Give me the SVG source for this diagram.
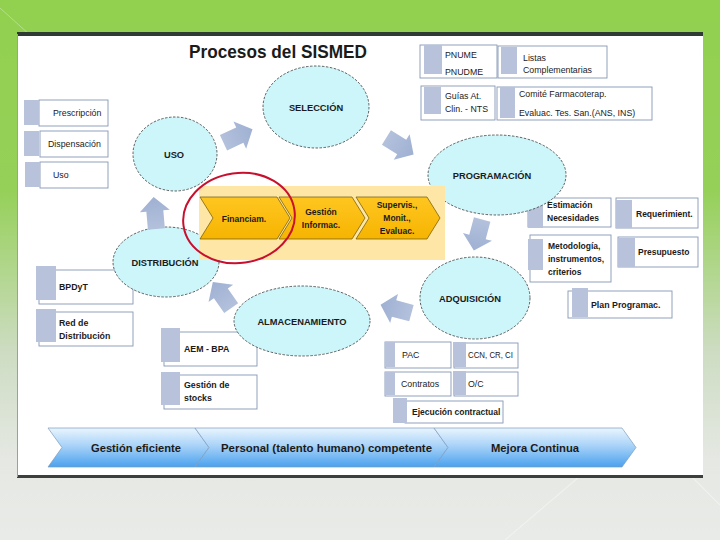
<svg xmlns="http://www.w3.org/2000/svg" width="720" height="540" viewBox="0 0 720 540">
<defs>
<linearGradient id="bg" x1="0" y1="0" x2="0" y2="1">
<stop offset="0" stop-color="#92d050"/>
<stop offset="0.35" stop-color="#95d058"/>
<stop offset="0.65" stop-color="#cddcc2"/>
<stop offset="0.85" stop-color="#e5e8e3"/>
<stop offset="1" stop-color="#e9ebe8"/>
</linearGradient>
<linearGradient id="blue" x1="0" y1="0" x2="0" y2="1">
<stop offset="0" stop-color="#eaf5fe"/>
<stop offset="0.45" stop-color="#a9d3f8"/>
<stop offset="1" stop-color="#4aa1ee"/>
</linearGradient>
<linearGradient id="orange" x1="0" y1="0" x2="0" y2="1">
<stop offset="0" stop-color="#ffc621"/>
<stop offset="1" stop-color="#f6b400"/>
</linearGradient>
<linearGradient id="arr" x1="0" y1="0" x2="1" y2="0">
<stop offset="0" stop-color="#b3c1dc"/>
<stop offset="1" stop-color="#9fb0d2"/>
</linearGradient>
<path id="blk" d="M-16,-8.5 L2,-8.5 L2,-15 L16,0 L2,15 L2,8.5 L-16,8.5 Z"/>
</defs>
<style>
.t{font-family:"Liberation Sans",Arial,sans-serif;fill:#1b1b1b}
.b{font-weight:bold}
.el{fill:#cdf6fb;stroke:#3a3a3a;stroke-width:0.8;stroke-dasharray:2.5,1.5}
.bx{fill:#ffffff;stroke:#8597b6;stroke-width:0.9}
.sq{fill:#b8c3db}
.ch{fill:url(#orange);stroke:#6b5300;stroke-width:0.7}
.bc{fill:url(#blue);stroke:#7d9cbf;stroke-width:0.7}
.ar{fill:url(#arr)}
.lab{font-size:9.3px;font-weight:bold;text-anchor:middle}
.s{font-size:8.8px}
.m{text-anchor:middle}
</style>
<rect width="720" height="540" fill="url(#bg)"/>
<path d="M0,8 L40,44" stroke="#c2e6a0" stroke-width="1" opacity="0.7"/>
<path d="M505,540 L640,425 M640,425 L720,505" stroke="#f3f4f2" stroke-width="1.2" opacity="0.8" fill="none"/>
<rect x="17" y="34" width="686" height="442" fill="#ffffff"/>
<rect x="17" y="32" width="686" height="4" fill="#303a34"/>
<rect x="17" y="475" width="686" height="3" fill="#3b403d"/>
<line x1="17.5" y1="34" x2="17.5" y2="477" stroke="#9aa09a" stroke-width="1"/>
<text class="t b" x="189" y="58" font-size="19" textLength="178" lengthAdjust="spacingAndGlyphs">Procesos del SISMED</text>

<g id="box-pnume"><rect class="bx" x="420" y="45" width="77" height="33"/><rect class="sq" x="424" y="45" width="18" height="29"/><text class="t s" x="445" y="58">PNUME</text><text class="t s" x="445" y="75">PNUDME</text></g>
<g id="box-listas"><rect class="bx" x="498" y="46" width="109" height="32"/><rect class="sq" x="501" y="47" width="16" height="27"/><text class="t s" x="523" y="61">Listas</text><text class="t s" x="523" y="73">Complementarias</text></g>
<g id="box-guias"><rect class="bx" x="421" y="86" width="74" height="34"/><rect class="sq" x="424" y="87" width="17" height="27"/><text class="t s" x="445" y="99">Guías At.</text><text class="t s" x="445" y="112">Clin. - NTS</text></g>
<g id="box-comite"><rect class="bx" x="497" y="87" width="155" height="33"/><rect class="sq" x="500" y="87" width="15" height="31"/><text class="t s" x="519" y="97">Comité Farmacoterap.</text><text class="t s" x="519" y="116">Evaluac. Tes. San.(ANS, INS)</text></g>
<g id="box-estimacion"><rect class="bx" x="528" y="198" width="83" height="29"/><rect class="sq" x="528" y="201" width="15" height="27"/><text class="t b" font-size="8.5" x="547" y="208">Estimación</text><text class="t b" font-size="8.5" x="547" y="221">Necesidades</text></g>
<g id="box-requerimiento"><rect class="bx" x="616" y="198" width="82" height="30"/><rect class="sq" x="616" y="200" width="16" height="28"/><text class="t b" font-size="8.5" x="636" y="217">Requerimient.</text></g>
<g id="box-metodologia"><rect class="bx" x="530" y="235" width="81" height="47"/><rect class="sq" x="528" y="239" width="15" height="31"/><text class="t b" font-size="8.5" x="548" y="249">Metodología,</text><text class="t b" font-size="8.5" x="548" y="262">instrumentos,</text><text class="t b" font-size="8.5" x="548" y="275">criterios</text></g>
<g id="box-presupuesto"><rect class="bx" x="618" y="237" width="80" height="30"/><rect class="sq" x="618" y="238" width="17" height="29"/><text class="t b" font-size="8.5" x="638" y="255">Presupuesto</text></g>
<g id="box-plan"><rect class="bx" x="568" y="291" width="104" height="27"/><rect class="sq" x="572" y="288" width="16" height="29"/><text class="t b" font-size="8.8" x="591" y="308">Plan Programac.</text></g>
<g id="box-prescripcion"><rect class="bx" x="39" y="100" width="69" height="26"/><rect class="sq" x="24" y="100" width="15" height="25"/><text class="t s" x="53" y="116">Prescripción</text></g>
<g id="box-dispensacion"><rect class="bx" x="40" y="131" width="68" height="26"/><rect class="sq" x="24" y="131" width="15" height="25"/><text class="t s" x="48" y="147">Dispensación</text></g>
<g id="box-uso"><rect class="bx" x="40" y="162" width="68" height="26"/><rect class="sq" x="25" y="162" width="15" height="25"/><text class="t s" x="53" y="178">Uso</text></g>
<g id="box-bpdyt"><rect class="bx" x="39" y="270" width="94" height="34"/><rect class="sq" x="36" y="266" width="20" height="34"/><text class="t b" font-size="8.8" x="59" y="290">BPDyT</text></g>
<g id="box-red"><rect class="bx" x="39" y="312" width="94" height="34"/><rect class="sq" x="36" y="309" width="20" height="33"/><text class="t b" font-size="8.8" x="59" y="326">Red de</text><text class="t b" font-size="8.8" x="59" y="339">Distribución</text></g>
<g id="box-aem"><rect class="bx" x="164" y="332" width="93" height="34"/><rect class="sq" x="161" y="328" width="19" height="34"/><text class="t b" font-size="8.8" x="184" y="352">AEM - BPA</text></g>
<g id="box-stocks"><rect class="bx" x="164" y="375" width="93" height="34"/><rect class="sq" x="161" y="372" width="19" height="33"/><text class="t b" font-size="8.8" x="184" y="388">Gestión de</text><text class="t b" font-size="8.8" x="184" y="401">stocks</text></g>
<g id="box-pac"><rect class="bx" x="385" y="342" width="66" height="26"/><rect class="sq" x="385" y="342" width="10" height="25"/><text class="t s" x="402" y="358">PAC</text></g>
<g id="box-ccn"><rect class="bx" x="454" y="343" width="64" height="25"/><rect class="sq" x="453" y="342" width="13" height="25"/><text class="t" font-size="8.4" x="468" y="358" textLength="45" lengthAdjust="spacingAndGlyphs">CCN, CR, CI</text></g>
<g id="box-contratos"><rect class="bx" x="385" y="372" width="66" height="24"/><rect class="sq" x="385" y="372" width="10" height="23"/><text class="t s" x="401" y="387">Contratos</text></g>
<g id="box-oc"><rect class="bx" x="454" y="372" width="64" height="24"/><rect class="sq" x="453" y="371" width="13" height="24"/><text class="t s" x="468" y="387">O/C</text></g>
<g id="box-ejecucion"><rect class="bx" x="405" y="401" width="98" height="22"/><rect class="sq" x="393" y="398" width="14" height="25"/><text class="t b" font-size="8.5" x="412" y="415">Ejecución contractual</text></g>

<g id="node-seleccion"><ellipse class="el" cx="316" cy="107" rx="53" ry="41"/><text class="t lab" x="316" y="110.5">SELECCIÓN</text></g>
<g id="node-uso"><ellipse class="el" cx="175" cy="154" rx="42" ry="37"/><text class="t lab" x="174" y="157.5">USO</text></g>
<g id="node-programacion"><ellipse class="el" cx="497" cy="175" rx="69" ry="40"/><text class="t lab" x="492" y="178.5">PROGRAMACIÓN</text></g>
<g id="node-adquisicion"><ellipse class="el" cx="475" cy="298" rx="55" ry="41"/><text class="t lab" x="470" y="301.5">ADQUISICIÓN</text></g>
<g id="node-distribucion"><ellipse class="el" cx="166" cy="262" rx="53" ry="35"/><text class="t lab" x="165" y="265.5">DISTRIBUCIÓN</text></g>
<g id="node-almacenamiento"><ellipse class="el" cx="302" cy="321" rx="68" ry="35"/><text class="t lab" x="302" y="324.5">ALMACENAMIENTO</text></g>

<g id="node-gestion-band">
<rect x="199" y="186" width="246" height="74" fill="#fde6a6"/>
<path class="ch" d="M200,197 L277,197 L290,218 L277,239 L200,239 L213,218 Z"/>
<path class="ch" d="M279,197 L352,197 L365,218 L352,239 L279,239 L292,218 Z"/>
<path class="ch" d="M356,197 L427,197 L440,218 L427,239 L356,239 L369,218 Z"/>
<text class="t b m" font-size="8.5" x="244" y="222">Financiam.</text>
<text class="t b m" font-size="8.5" x="321" y="215">Gestión</text>
<text class="t b m" font-size="8.5" x="321" y="228">Informac.</text>
<text class="t b m" font-size="8.5" x="397" y="208">Supervis.,</text>
<text class="t b m" font-size="8.5" x="397" y="221">Monit.,</text>
<text class="t b m" font-size="8.5" x="397" y="234">Evaluac.</text>
<ellipse cx="239" cy="218" rx="56" ry="45" fill="none" stroke="#c8102e" stroke-width="2" transform="rotate(-8 239 218)"/>
</g>

<g id="connectors">
<use href="#blk" class="ar" transform="translate(238,136) rotate(-25)"/>
<use href="#blk" class="ar" transform="translate(400,146) rotate(32)"/>
<use href="#blk" class="ar" transform="translate(478,235) rotate(105)"/>
<use href="#blk" class="ar" transform="translate(396,309) rotate(195)"/>
<use href="#blk" class="ar" transform="translate(222,295) rotate(235)"/>
<use href="#blk" class="ar" transform="translate(155,213) rotate(-95)"/>
</g>

<g id="node-bottom">
<path class="bc" d="M48,428 L195,428 L209,447.5 L195,467 L48,467 L62,447.5 Z"/>
<path class="bc" d="M195,428 L434,428 L448,447.5 L434,467 L195,467 L209,447.5 Z"/>
<path class="bc" d="M434,428 L622,428 L636,447.5 L622,467 L434,467 L448,447.5 Z"/>
<text class="t b" fill="#1d2740" font-size="11.5" x="91" y="451.5" textLength="90" lengthAdjust="spacingAndGlyphs">Gestión eficiente</text>
<text class="t b" fill="#1d2740" font-size="11.5" x="221" y="451.5" textLength="211" lengthAdjust="spacingAndGlyphs">Personal (talento humano) competente</text>
<text class="t b" fill="#1d2740" font-size="11.5" x="491" y="451.5" textLength="88" lengthAdjust="spacingAndGlyphs">Mejora Continua</text>
</g>
</svg>
